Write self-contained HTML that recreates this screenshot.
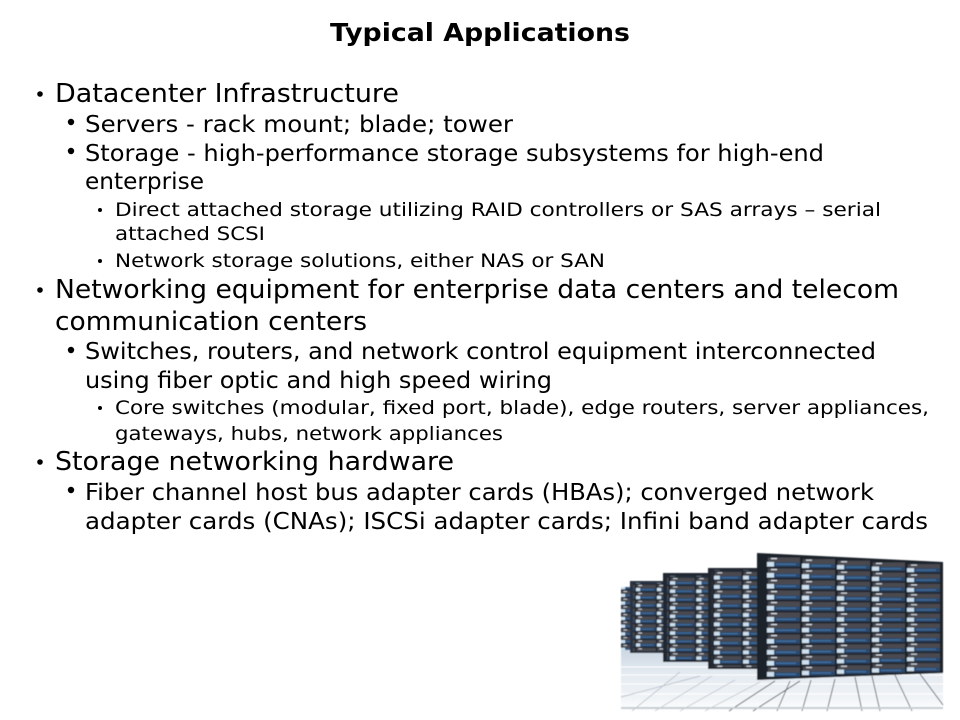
<!DOCTYPE html>
<html><head><meta charset="utf-8"><style>
html,body{margin:0;padding:0;background:#fff;width:960px;height:720px;overflow:hidden}
svg{display:block}
text{font-family:"DejaVu Sans","Liberation Sans",sans-serif;fill:#000}
.a{font-size:26px}.b{font-size:23px}.c{font-size:19px}
</style></head><body>
<svg width="960" height="720" viewBox="0 0 960 720" xmlns="http://www.w3.org/2000/svg">
<defs>
<filter id="soft" x="-2%" y="-2%" width="104%" height="104%"><feGaussianBlur stdDeviation=".55"/></filter>
<linearGradient id="fl" x1="0" y1="0" x2="0" y2="1"><stop offset="0" stop-color="#ccd7e3"/><stop offset=".35" stop-color="#e2e9f0"/><stop offset=".8" stop-color="#f1f4f7"/><stop offset="1" stop-color="#fff"/></linearGradient>
<g id="unit">
<rect width="35" height="11" fill="#20262f"/>
<rect x="1" y="1" width="32" height="5" fill="#4a4a50"/>
<rect x="1" y="6" width="32" height="4" fill="#2c4a70"/>
<rect x="9" y="7" width="20" height="1.4" fill="#3f6f9f"/>
<rect x="-1" y="5.5" width="8" height="4.5" fill="#cfe1ef"/>
<rect x="4" y="1.5" width="6" height="1.2" fill="#dfe6ee"/>
</g>
<pattern id="m0" width="35" height="11" patternUnits="userSpaceOnUse" patternTransform="translate(767,556.5) scale(1,1)"><use href="#unit"/></pattern>
<pattern id="m1" width="35" height="11" patternUnits="userSpaceOnUse" patternTransform="translate(802,558.2) scale(1,.975)"><use href="#unit"/></pattern>
<pattern id="m2" width="35" height="11" patternUnits="userSpaceOnUse" patternTransform="translate(837,559.8) scale(1,.95)"><use href="#unit"/></pattern>
<pattern id="m3" width="35" height="11" patternUnits="userSpaceOnUse" patternTransform="translate(872,561.5) scale(1,.925)"><use href="#unit"/></pattern>
<pattern id="m4" width="35" height="11" patternUnits="userSpaceOnUse" patternTransform="translate(907,563.2) scale(1,.9)"><use href="#unit"/></pattern>
<pattern id="d" width="35" height="11" patternUnits="userSpaceOnUse" patternTransform="translate(714,571) scale(.83,.85)"><use href="#unit"/></pattern>
<pattern id="c" width="35" height="11" patternUnits="userSpaceOnUse" patternTransform="translate(670,577) scale(.75,.76)"><use href="#unit"/></pattern>
<pattern id="b" width="35" height="11" patternUnits="userSpaceOnUse" patternTransform="translate(636,584) scale(.6,.72)"><use href="#unit"/></pattern>
<pattern id="aa" width="35" height="11" patternUnits="userSpaceOnUse" patternTransform="translate(621,590) scale(.6,.7)"><use href="#unit"/></pattern>
</defs>
<text x="330" y="41" font-size="25" font-weight="bold" textLength="300" lengthAdjust="spacingAndGlyphs">Typical Applications</text>

<circle cx="40" cy="94" r="2.8"/>
<circle cx="71" cy="122" r="3.2"/><circle cx="71" cy="151" r="3.2"/>
<circle cx="100" cy="210" r="2"/><circle cx="100" cy="261" r="2"/>
<circle cx="40" cy="290" r="2.8"/>
<circle cx="71" cy="350" r="3.2"/>
<circle cx="100" cy="408" r="2"/>
<circle cx="40" cy="462" r="2.8"/>
<circle cx="71" cy="490" r="3.2"/>

<text class="a" x="55" y="102" textLength="344" lengthAdjust="spacingAndGlyphs">Datacenter Infrastructure</text>
<text class="b" x="85" y="132" textLength="428" lengthAdjust="spacingAndGlyphs">Servers - rack mount; blade; tower</text>
<text class="b" x="85" y="161" textLength="739" lengthAdjust="spacingAndGlyphs">Storage - high-performance storage subsystems for high-end</text>
<text class="b" x="85" y="189" textLength="119" lengthAdjust="spacingAndGlyphs">enterprise</text>
<text class="c" x="115" y="216" textLength="766" lengthAdjust="spacingAndGlyphs">Direct attached storage utilizing RAID controllers or SAS arrays – serial</text>
<text class="c" x="115" y="240" textLength="150" lengthAdjust="spacingAndGlyphs">attached SCSI</text>
<text class="c" x="115" y="267" textLength="490" lengthAdjust="spacingAndGlyphs">Network storage solutions, either NAS or SAN</text>
<text class="a" x="55" y="298" textLength="844" lengthAdjust="spacingAndGlyphs">Networking equipment for enterprise data centers and telecom</text>
<text class="a" x="55" y="330" textLength="312" lengthAdjust="spacingAndGlyphs">communication centers</text>
<text class="b" x="85" y="359" textLength="791" lengthAdjust="spacingAndGlyphs">Switches, routers, and network control equipment interconnected</text>
<text class="b" x="85" y="388" textLength="467" lengthAdjust="spacingAndGlyphs">using fiber optic and high speed wiring</text>
<text class="c" x="115" y="414" textLength="814" lengthAdjust="spacingAndGlyphs">Core switches (modular, fixed port, blade), edge routers, server appliances,</text>
<text class="c" x="115" y="440" textLength="388" lengthAdjust="spacingAndGlyphs">gateways, hubs, network appliances</text>
<text class="a" x="55" y="470" textLength="399" lengthAdjust="spacingAndGlyphs">Storage networking hardware</text>
<text class="b" x="85" y="500" textLength="789" lengthAdjust="spacingAndGlyphs">Fiber channel host bus adapter cards (HBAs); converged network</text>
<text class="b" x="85" y="529" textLength="843" lengthAdjust="spacingAndGlyphs">adapter cards (CNAs); ISCSi adapter cards; Infini band adapter cards</text>

<g filter="url(#soft)">
<rect x="621" y="650" width="322" height="61" fill="url(#fl)"/>
<g stroke="#fff" stroke-width="1" fill="none">
<path d="M621 667H757M621 675H943M621 684H943M621 694H943"/>
</g>
<g stroke="#aab4bf" stroke-width=".7" fill="none">
<path d="M680 672L632 711M712 676L655 711M735 680L680 711M760 682L705 711M621 697L700 676"/>
</g>
<g stroke="#3d4650" stroke-width=".8" fill="none">
<path d="M775 681L729 711M800 681L753 711M790 681L777 711M811 680L802 711M835 679L827 711M855 677L862 711M872 676L880 711M895 675L912 711M920 674L943 705"/>
</g>
<rect x="621" y="707" width="322" height="2" fill="#c6ccd2"/>
<rect x="621" y="587" width="10" height="63" fill="#2a3340"/>
<rect x="621" y="587" width="10" height="63" fill="url(#aa)"/>
<path d="M630 581H668V653H630Z" fill="#2a3340"/><rect x="633" y="583" width="33" height="68" fill="url(#b)"/>
<path d="M663 573H711V662H663Z" fill="#20262f"/><rect x="667" y="576" width="42" height="84" fill="url(#c)"/>
<path d="M708 568H757V669H708Z" fill="#20262f"/><rect x="712" y="570" width="45" height="97" fill="url(#d)"/>
<polygon points="757,553 943,562 943,673 757,680" fill="#1c222b"/>
<rect x="767" y="556.5" width="33" height="121" fill="url(#m0)"/>
<rect x="802" y="558.2" width="33" height="118" fill="url(#m1)"/>
<rect x="837" y="559.8" width="33" height="115" fill="url(#m2)"/>
<rect x="872" y="561.5" width="33" height="112" fill="url(#m3)"/>
<rect x="907" y="563.2" width="33" height="109" fill="url(#m4)"/>
</g>
</svg>
</body></html>
